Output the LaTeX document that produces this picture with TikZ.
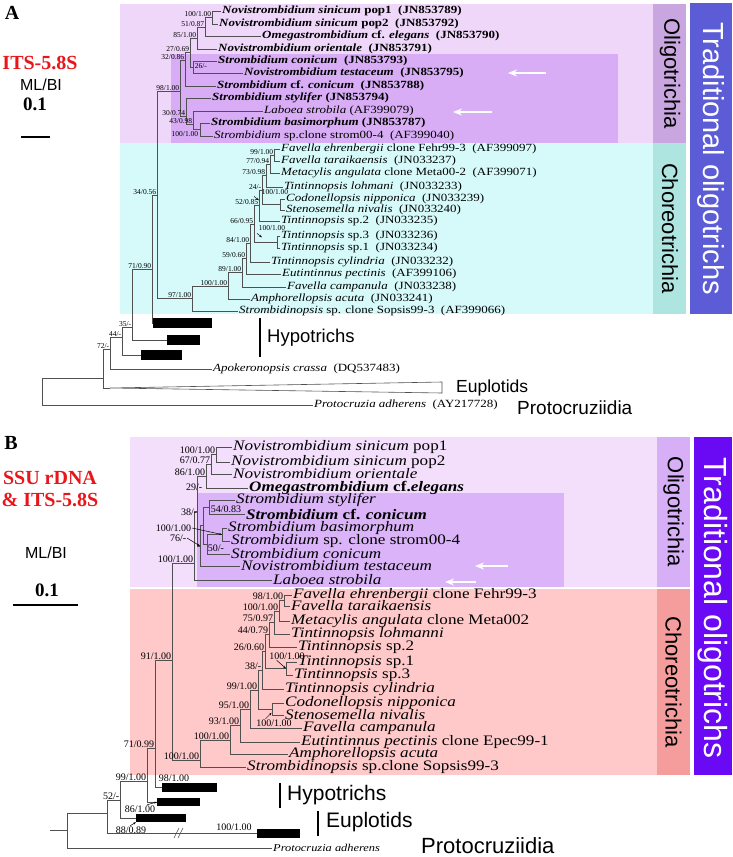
\documentclass[tikz,border=0pt]{standalone}
\usepackage{fontspec}
\setmainfont{Liberation Serif}
\setsansfont{Liberation Sans}
\newfontfamily\taxfont[FakeStretch=1.18]{Liberation Serif}
\usetikzlibrary{arrows.meta, positioning}
\definecolor{TreeGray}{HTML}{505050}
\definecolor{LabelRed}{HTML}{E8161B}
\definecolor{OligoA}{HTML}{EFD7FA}
\definecolor{StromA}{HTML}{D8ADF6}
\definecolor{OligoTagA}{HTML}{C9A6DF}
\definecolor{ChoreoA}{HTML}{D6FAFA}
\definecolor{ChoreoTagA}{HTML}{AFE5E1}
\definecolor{TradA}{HTML}{5C5CD6}
\definecolor{OligoB}{HTML}{F3DEFB}
\definecolor{StromB}{HTML}{DAB3F8}
\definecolor{OligoTagB}{HTML}{D6AFF6}
\definecolor{ChoreoB}{HTML}{FFC9CA}
\definecolor{ChoreoTagB}{HTML}{F59C9C}
\definecolor{TradB}{HTML}{6A0AF5}
\tikzset{
    br/.style={draw=TreeGray, line width=0.6pt},
    taxA/.style={anchor=west, inner sep=1pt, font=\taxfont\fontsize{11}{12}\selectfont},
    taxB/.style={anchor=west, inner sep=1pt, font=\taxfont\fontsize{14.5}{15}\selectfont},
    supA/.style={anchor=south east, inner sep=0.6pt, font=\fontsize{7.5}{8}\selectfont},
    supB/.style={anchor=south east, inner sep=0.6pt, font=\fontsize{10}{10}\selectfont},
    hbar/.style={fill=black, anchor=west, inner sep=0pt, minimum height=#1},
    hbar/.default=10pt,
    band/.style={fill=#1, draw=none},
    tag/.style={rotate=-90, inner sep=0pt, font=\sffamily\fontsize{22}{22}\selectfont},
    bigtag/.style={rotate=-90, inner sep=0pt, text=white, font=\sffamily\fontsize{#1}{#1}\selectfont},
    grp/.style={anchor=west, inner sep=1pt, font=\sffamily\fontsize{#1}{#1}\selectfont},
    grpbar/.style={line width=1.8pt},
    whitearrow/.style={-{Stealth[length=9pt, width=7pt]}, draw=white, line width=1.8pt},
    tinyarrow/.style={-{Stealth[length=3pt, width=2pt]}, line width=0.5pt},
    panel/.style={font=\bfseries\fontsize{20}{20}\selectfont},
    method/.style={font=\sffamily\fontsize{16}{16}\selectfont},
    gene/.style={text=LabelRed, align=center, font=\bfseries\fontsize{20}{22}\selectfont},
    scalelbl/.style={font=\bfseries\fontsize{19}{19}\selectfont}
}

\begin{document}
\begin{tikzpicture}[x=1pt, y=-1pt]
    \useasboundingbox (0,0) rectangle (733,857);

    % ---------------- Panel A ----------------
    % Background bands
    \fill[band=OligoA] (120,4) rectangle (653,143);
    \fill[band=StromA] (171,54) rectangle (618,143);
    \fill[band=ChoreoA] (120,143) rectangle (653,314);
    \fill[band=OligoTagA] (653,4) rectangle (686,143);
    \fill[band=ChoreoTagA] (653,143) rectangle (686,314);
    \fill[band=TradA] (690,3) rectangle (732,314);
    \node[tag] (oligoA) at (670,73.5) {Oligotrichia};
    \node[tag] (choreoA) at (670,228.5) {Choreotrichia};
    \node[bigtag=29] (tradA) at (711,158.5) {Traditional oligotrichs};

    % Headings
    \node[panel] (capA) at (12,13) {A};
    \node[gene] (geneA) at (40,63) {ITS-5.8S};
    \node[method] (mlA) at (41,85) {ML/BI};
    \node[scalelbl] (scA) at (35,104) {0.1};
    \draw[line width=1.5pt] (21,137) -- (50,137);

    % Taxa
    \node[taxA] (t1) at (221,11) {\bfseries\textit{Novistrombidium sinicum} pop1\ \ (JN853789)};
    \node[taxA] (t2) at (218,24) {\bfseries\textit{Novistrombidium sinicum} pop2\ \ (JN853792)};
    \node[taxA] (t3) at (261,36) {\bfseries\textit{Omegastrombidium} cf. \textit{elegans}\ \ (JN853790)};
    \node[taxA] (t4) at (217,49) {\bfseries\textit{Novistrombidium orientale}\ \ (JN853791)};
    \node[taxA] (t5) at (217,61) {\bfseries\textit{Strombidium conicum}\ \ (JN853793)};
    \node[taxA] (t6) at (243,73) {\bfseries\textit{Novistrombidium testaceum}\ \ (JN853795)};
    \node[taxA] (t7) at (216,86) {\bfseries\textit{Strombidium} cf. \textit{conicum}\ \ (JN853788)};
    \node[taxA] (t8) at (211,98) {\bfseries\textit{Strombidium stylifer} (JN853794)};
    \node[taxA] (t9) at (263,111) {\textit{Laboea strobila} (AF399079)};
    \node[taxA] (t10) at (210,123) {\bfseries\textit{Strombidium basimorphum} (JN853787)};
    \node[taxA] (t11) at (213,136) {\textit{Strombidium} sp.clone strom00-4\ \ (AF399040)};
    \node[taxA] (t12) at (280,149) {\textit{Favella ehrenbergii} clone Fehr99-3\ \ (AF399097)};
    \node[taxA] (t13) at (280,161) {\textit{Favella taraikaensis}\ \ (JN033237)};
    \node[taxA] (t14) at (280,173) {\textit{Metacylis angulata} clone Meta00-2\ \ (AF399071)};
    \node[taxA] (t15) at (283,187) {\textit{Tintinnopsis lohmani}\ \ (JN033233)};
    \node[taxA] (t16) at (285,199) {\textit{Codonellopsis nipponica}\ \ (JN033239)};
    \node[taxA] (t17) at (285,210) {\textit{Stenosemella nivalis}\ \ (JN033240)};
    \node[taxA] (t18) at (280,221) {\textit{Tintinnopsis} sp.2\ \ (JN033235)};
    \node[taxA] (t19) at (280,236) {\textit{Tintinnopsis} sp.3\ \ (JN033236)};
    \node[taxA] (t20) at (280,248) {\textit{Tintinnopsis} sp.1\ \ (JN033234)};
    \node[taxA] (t21) at (270,262) {\textit{Tintinnopsis cylindria}\ \ (JN033232)};
    \node[taxA] (t22) at (281,274) {\textit{Eutintinnus pectinis}\ \ (AF399106)};
    \node[taxA] (t23) at (286,287) {\textit{Favella campanula}\ \ (JN033238)};
    \node[taxA] (t24) at (250,299) {\textit{Amphorellopsis acuta}\ \ (JN033241)};
    \node[taxA] (t25) at (238,311) {\textit{Strombidinopsis} sp. clone Sopsis99-3\ \ (AF399066)};
    \node[taxA] (t26) at (212,369) {\textit{Apokeronopsis crassa}\ \ (DQ537483)};
    \node[taxA] (t27) at (313,405) {\textit{Protocruzia adherens}\ \ (AY217728)};

    % Collapsed clades
    \node[hbar, minimum width=59pt] (hb1) at (153,323) {};
    \node[hbar, minimum width=33pt] (hb2) at (167,340) {};
    \node[hbar, minimum width=41pt] (hb3) at (141,355) {};
    \coordinate (euA) at (110,388);
    \draw[br] (euA) -- (442,382) -- (442,393) -- cycle;

    % Internal nodes (x, stem)
    \coordinate (a100) at (212,17.5);
    \coordinate (a51) at (205,27);
    \coordinate (a85) at (197,38);
    \coordinate (a26) at (193,67);
    \coordinate (a27) at (190,52);
    \coordinate (a32) at (185,60);
    \coordinate (a100b) at (200,129.5);
    \coordinate (a43) at (193,124);
    \coordinate (a30) at (186,116);
    \coordinate (a98) at (180,91);
    \coordinate (a99) at (274,155);
    \coordinate (a77) at (270,164);
    \coordinate (a73) at (266,175.5);
    \coordinate (aCod) at (280,204.5);
    \coordinate (a24) at (262,190);
    \coordinate (a52) at (259,205.5);
    \coordinate (aSp) at (277,242);
    \coordinate (a66) at (254,224);
    \coordinate (a84) at (250,243);
    \coordinate (a59) at (246,258.5);
    \coordinate (a89) at (242,272.75);
    \coordinate (a100c) at (228,286);
    \coordinate (a97) at (192,298.5);
    \coordinate (a34) at (157,195);
    \coordinate (a71) at (152,269);
    \coordinate (a35) at (132,327);
    \coordinate (a44) at (122,337);
    \coordinate (a72) at (110,349);
    \coordinate (aE) at (103,378);
    \coordinate (aR) at (42,391.5);

    % Branches
    \foreach \p/\c in {a100/t1, a100/t2, a51/a100, a51/t3, a85/a51, a85/t4, a27/a85, a27/a26,
        a26/t5, a26/t6, a32/a27, a32/t7, a98/a32, a98/a30, a30/t8, a30/a43, a43/t9, a43/a100b,
        a100b/t10, a100b/t11, a99/t12, a99/t13, a77/a99, a77/t14, a73/a77, a73/t15,
        aCod/t16, aCod/t17, a24/a73, a24/aCod, a52/a24, a52/t18, aSp/t19, aSp/t20,
        a66/a52, a66/aSp, a84/a66, a84/t21, a59/a84, a59/t22, a89/a59, a89/t23,
        a100c/a89, a100c/t24, a97/a100c, a97/t25, a34/a98, a34/a97, a71/a34, a71/hb1,
        a35/a71, a35/hb2, a44/a35, a44/hb3, a72/a44, a72/t26, aE/a72, aE/euA, aR/aE, aR/t27}
        \draw[br] (\p) |- (\c);

    % Support values
    \foreach \n/\a/\b in {a100/100/1.00, a51/51/0.87, a85/85/1.00, a27/27/0.69, a32/32/0.86,
        a98/98/1.00, a30/30/0.74, a43/43/0.98, a99/99/1.00, a77/77/0.94, a73/73/0.98,
        a24/24/-, a52/52/0.85, a66/66/0.95, a84/84/1.00, a59/59/0.60, a89/89/1.00,
        a100c/100/1.00, a97/97/1.00, a34/34/0.56, a71/71/0.90, a35/35/-, a44/44/-, a72/72/-}
        \node[supA] (l\n) at (\n) {\a/\b};
    \node[supA, anchor=west] (la26) at (194,66) {26/-};
    \node[supA, anchor=north east] (la100b) at (199,131) {100/1.00};
    \node[supA, anchor=center] (laCod) at (275,192) {100/1.00};
    \draw[tinyarrow] ([xshift=-7pt,yshift=-1pt]laCod.south west) -- ++(5,4);
    \node[supA, anchor=center] (laSp) at (272,228) {100/1.00};
    \draw[tinyarrow] ([xshift=-1pt,yshift=-2pt]laSp.south west) -- ++(5,4);

    % White arrows
    \draw[whitearrow] (546,73) -- (508,73);
    \draw[whitearrow] (492,112) -- (453,112);

    % Group labels
    \draw[grpbar] (260,318) -- (260,357);
    \node[grp=18.5] (hypA) at (266,338) {Hypotrichs};
    \node[grp=17.5] (eupA) at (455,388) {Euplotids};
    \node[grp=19] (proA) at (516,408) {Protocruziidia};

    % ---------------- Panel B ----------------
    % Background bands
    \fill[band=OligoB] (130,437) rectangle (657,587);
    \fill[band=StromB] (197,493) rectangle (564,587);
    \fill[band=ChoreoB] (130,589) rectangle (657,775);
    \fill[band=OligoTagB] (657,437) rectangle (690,587);
    \fill[band=ChoreoTagB] (657,589) rectangle (690,775);
    \fill[band=TradB] (694,437) rectangle (732,775);
    \node[tag] (oligoB) at (673.5,512) {Oligotrichia};
    \node[tag] (choreoB) at (673.5,682) {Choreotrichia};
    \node[bigtag=32] (tradB) at (713,608) {Traditional oligotrichs};

    % Headings
    \node[panel] (capB) at (11,443) {B};
    \node[gene] (geneB) at (50,489) {SSU rDNA\\\& ITS-5.8S};
    \node[method] (mlB) at (46,553) {ML/BI};
    \node[scalelbl] (scB) at (47,590) {0.1};
    \draw[line width=1.5pt] (13,605) -- (78,605);

    % Taxa
    \node[taxB] (u1) at (232,447) {\textit{Novistrombidium sinicum} pop1};
    \node[taxB] (u2) at (230,462) {\textit{Novistrombidium sinicum} pop2};
    \node[taxB] (u3) at (232,474) {\textit{Novistrombidium orientale}};
    \node[taxB] (u4) at (248,488) {\bfseries\textit{Omegastrombidium} cf.\textit{elegans}};
    \node[taxB] (u5) at (235,500) {\textit{Strombidium stylifer}};
    \node[taxB] (u6) at (245,514) {\bfseries\textit{Strombidium} cf. \textit{conicum}};
    \node[taxB] (u7) at (227,528) {\textit{Strombidium basimorphum}};
    \node[taxB] (u8) at (230,541) {\textit{Strombidium} sp. clone strom00-4};
    \node[taxB] (u9) at (230,554) {\textit{Strombidium conicum}};
    \node[taxB] (u10) at (240,566) {\textit{Novistrombidium testaceum}};
    \node[taxB] (u11) at (272,580) {\textit{Laboea strobila}};
    \node[taxB] (u12) at (292,595) {\textit{Favella ehrenbergii} clone Fehr99-3};
    \node[taxB] (u13) at (290,606) {\textit{Favella taraikaensis}};
    \node[taxB] (u14) at (290,621) {\textit{Metacylis angulata} clone Meta002};
    \node[taxB] (u15) at (290,634) {\textit{Tintinnopsis lohmanni}};
    \node[taxB] (u16) at (297,647) {\textit{Tintinnopsis} sp.2};
    \node[taxB] (u17) at (297,662) {\textit{Tintinnopsis} sp.1};
    \node[taxB] (u18) at (293,675) {\textit{Tintinnopsis} sp.3};
    \node[taxB] (u19) at (284,689) {\textit{Tintinnopsis cylindria}};
    \node[taxB] (u20) at (284,703) {\textit{Codonellopsis nipponica}};
    \node[taxB] (u21) at (284,715) {\textit{Stenosemella nivalis}};
    \node[taxB] (u22) at (302,728) {\textit{Favella campanula}};
    \node[taxB] (u23) at (300,742) {\textit{Eutintinnus pectinis} clone Epec99-1};
    \node[taxB] (u24) at (288,754) {\textit{Amphorellopsis acuta}};
    \node[taxB] (u25) at (246,767) {\textit{Strombidinopsis} sp.clone Sopsis99-3};
    \node[taxB, font=\taxfont\fontsize{10.5}{11}\selectfont] (u26) at (272,848) {\textit{Protocruzia adherens}};

    % Collapsed clades
    \node[hbar=9pt, minimum width=55pt] (hB1) at (162,787.5) {};
    \node[hbar=8pt, minimum width=43pt] (hB2) at (157,802) {};
    \node[hbar=8pt, minimum width=50pt] (hB3) at (136,818) {};
    \node[hbar=9pt, minimum width=43pt] (euB) at (257,833.5) {};

    % Internal nodes (x, stem)
    \coordinate (b100) at (216,454.5);
    \coordinate (b67) at (211,464);
    \coordinate (b86) at (206,476);
    \coordinate (bSC) at (209,507);
    \coordinate (bBS) at (222,534.5);
    \coordinate (b50) at (207,544);
    \coordinate (b38) at (203,525);
    \coordinate (b76) at (200,546);
    \coordinate (b29) at (197,511);
    \coordinate (bO) at (194,563);
    \coordinate (c98) at (284,600.5);
    \coordinate (c100a) at (279,611);
    \coordinate (c75) at (274,622);
    \coordinate (c44) at (269,634);
    \coordinate (cSp) at (286,668.5);
    \coordinate (c26) at (265,651);
    \coordinate (c38) at (262,670);
    \coordinate (cCod) at (272,709);
    \coordinate (c99) at (258,690);
    \coordinate (c95) at (250,709);
    \coordinate (c93) at (240,725);
    \coordinate (c100e) at (230,740);
    \coordinate (c100s) at (200,760);
    \coordinate (b91) at (172,660);
    \coordinate (b71) at (155,748);
    \coordinate (b99) at (147,781);
    \coordinate (b52) at (120,800);
    \coordinate (bE) at (107,813);
    \coordinate (bR) at (67,830);
    \coordinate (bS) at (50,830);

    % Branches
    \foreach \p/\c in {b100/u1, b100/u2, b67/b100, b67/u3, b86/b67, b86/u4, bSC/u5, bSC/u6,
        bBS/u7, bBS/u8, b50/bBS, b50/u9, b38/bSC, b38/b50, b76/b38, b76/u10, b29/b86, b29/b76,
        bO/b29, bO/u11, c98/u12, c98/u13, c100a/c98, c100a/u14, c75/c100a, c75/u15,
        c44/c75, c44/u16, cSp/u17, cSp/u18, c26/c44, c26/cSp, c38/c26, c38/u19,
        cCod/u20, cCod/u21, c99/c38, c99/cCod, c95/c99, c95/u22, c93/c95, c93/u23,
        c100e/c93, c100e/u24, c100s/c100e, c100s/u25, b91/bO, b91/c100s, b71/b91, b71/hB1,
        b99/b71, b99/hB2, b52/b99, b52/hB3, bE/b52, bE/euB, bR/bE, bR/u26}
        \draw[br] (\p) |- (\c);
    \draw[br] (bS) -- (bR);
    % break marks on the long branch
    \draw[br] (174,838) -- (179,828) (178,838) -- (183,828);

    % Support values
    \foreach \n/\a/\b in {b100/100/1.00, b67/67/0.77, b86/86/1.00, bO/100/1.00,
        c98/98/1.00, c100a/100/1.00, c75/75/0.97, c44/44/0.79, c26/26/0.60, c38/38/-,
        c99/99/1.00, c95/95/1.00, c93/93/1.00, c100e/100/1.00, c100s/100/1.00,
        b91/91/1.00, b71/71/0.99, b99/99/1.00, b52/52/-}
        \node[supB] (l\n) at (\n) {\a/\b};
    \node[supB, anchor=east] (lb29) at (203,487) {29/-};
    \node[supB, anchor=east] (lb38) at (198,512) {38/-};
    \node[supB, anchor=west] (lbSC) at (210,509) {54/0.83};
    \node[supB, anchor=east] (lbBS) at (192,528) {100/1.00};
    \draw[tinyarrow] (lbBS.east) -- (bBS);
    \node[supB, anchor=east] (lb76) at (187,538) {76/-};
    \draw[tinyarrow] (lb76.east) -- (b76);
    \node[supB, anchor=west] (lb50) at (207,548) {50/-};
    \node[supB, anchor=center] (lcSp) at (287,656) {100/1.00};
    \draw[tinyarrow] ([xshift=8pt]lcSp.south west) -- (cSp);
    \node[supB, anchor=center] (lcCod) at (274,723) {100/1.00};
    \draw[tinyarrow] ([xshift=10pt]lcCod.north west) -- ++(6,-6);
    \node[supB, anchor=south west] (lhB1) at (158,782) {98/1.00};
    \node[supB, anchor=center] (lhB2) at (140,809) {86/1.00};
    \draw[tinyarrow] ([xshift=-9pt]lhB2.north east) -- (hB2.west);
    \node[supB, anchor=center] (lhB3) at (131,830) {88/0.89};
    \draw[tinyarrow] ([xshift=15pt]lhB3.north west) -- (hB3.south west);
    \node[supB, anchor=center] (leuB) at (234,827) {100/1.00};

    % White arrows
    \draw[whitearrow] (508,566) -- (475,566);
    \draw[whitearrow] (476,582) -- (445,582);

    % Group labels
    \draw[grpbar] (280,783) -- (280,808);
    \node[grp=21] (hypB) at (286,795) {Hypotrichs};
    \draw[grpbar] (318,811) -- (318,836);
    \node[grp=21] (eupB) at (325,822) {Euplotids};
    \node[grp=22, anchor=base west] (proB) at (420,853) {Protocruziidia};
\end{tikzpicture}
\end{document}
